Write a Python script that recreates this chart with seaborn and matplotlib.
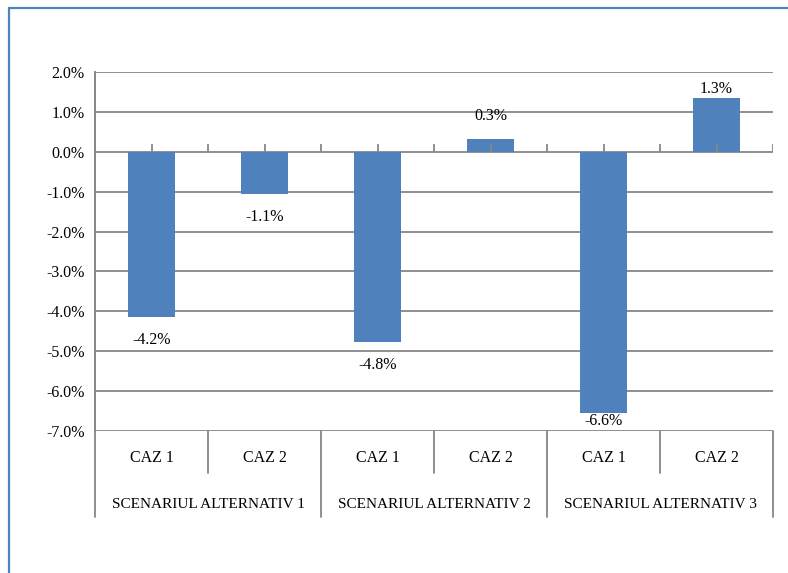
import matplotlib
matplotlib.use("Agg")
import matplotlib.pyplot as plt
import matplotlib.transforms as mtransforms
from matplotlib.lines import Line2D
import seaborn as sns
import pandas as pd
import numpy as np

# ---- data ----
scenarios = ["SCENARIUL ALTERNATIV 1", "SCENARIUL ALTERNATIV 2", "SCENARIUL ALTERNATIV 3"]
cases = ["CAZ 1", "CAZ 2"]
values = [-4.15, -1.07, -4.77, 0.32, -6.56, 1.34]          # percent
value_labels = ["-4.2%", "-1.1%", "-4.8%", "0.3%", "-6.6%", "1.3%"]
y_ticks = [2.0, 1.0, 0.0, -1.0, -2.0, -3.0, -4.0, -5.0, -6.0, -7.0]

BAR = "#4F81BD"
GRID = "#878787"
BORDER = "#4F81BD"

sns.set_theme(style="white")
plt.rcParams['font.family'] = ['Liberation Serif', 'DejaVu Serif']

rows = []
for si, s in enumerate(scenarios):
    for ci, c in enumerate(cases):
        rows.append({"key": f"{s}|{c}", "scenario": s, "case": c,
                     "value": values[si * len(cases) + ci]})
df = pd.DataFrame(rows)

W, H = 788, 573
fig = plt.figure(figsize=(W / 100, H / 100), dpi=100)
ax_left, ax_right, ax_top, ax_bot = 95, 773, 72, 431
ax = fig.add_axes([ax_left / W, 1 - ax_bot / H, (ax_right - ax_left) / W, (ax_bot - ax_top) / H])

sns.barplot(data=df, x="key", y="value", color=BAR, saturation=1, width=0.42,
            errorbar=None, ax=ax, zorder=3, linewidth=0, edgecolor="none")

ax.set_ylim(y_ticks[-1], y_ticks[0])
n = len(df)
ax.set_xlim(-0.5, n - 0.5)
ax.set_yticks(y_ticks)
ax.set_yticklabels([f"{t:.1f}%" for t in y_ticks])
ax.yaxis.grid(True, color=GRID, linewidth=1.3)
ax.set_axisbelow(True)
ax.set_xlabel("")
ax.set_ylabel("")

for sp in ["top", "right", "bottom"]:
    ax.spines[sp].set_visible(False)
ax.spines["left"].set_color(GRID)
ax.spines["left"].set_linewidth(1.3)

FS = 11.5
ax.tick_params(axis="y", direction="out", length=3.6, width=1.3, color=GRID,
               pad=4, labelsize=FS, labelcolor="black")
ax.set_xticks(range(n))
ax.set_xticklabels(df["case"].tolist())
ax.tick_params(axis="x", length=0, pad=13.5, labelsize=FS, labelcolor="black")

# small upward ticks on the zero line (category boundaries and centres)
px_per_unit = (ax_bot - ax_top) / (y_ticks[0] - y_ticks[-1])
ax.vlines(np.arange(-0.5, n, 0.5), 0, 8 / px_per_unit, colors=GRID, linewidth=1.3, zorder=4)

# bar value labels (kept inside the plot area)
off = 23 / px_per_unit
ymin_lab = y_ticks[-1] + 10 / px_per_unit
ymax_lab = y_ticks[0] - 17 / px_per_unit
for patch, v, lab in zip(ax.patches, df["value"], value_labels):
    xc = patch.get_x() + patch.get_width() / 2
    y = min(v + off, ymax_lab) if v >= 0 else max(v - off, ymin_lab)
    ax.text(xc, y, lab, ha="center", va="center", fontsize=FS, color="black", zorder=5)

# multi-level category axis separators
trans = mtransforms.blended_transform_factory(ax.transData, ax.transAxes)
short_y = -(473 - ax_bot) / (ax_bot - ax_top)
long_y = -(517 - ax_bot) / (ax_bot - ax_top)
for b in np.arange(-0.5, n, 1.0):
    k = int(round(b + 0.5))
    y0 = long_y if k % len(cases) == 0 else short_y
    y1 = 1.0 if k == 0 else 0.0
    fig.add_artist(Line2D([b, b], [y0, y1], transform=trans, color=GRID, linewidth=1.3))

scen_y = -(504.5 - ax_bot) / (ax_bot - ax_top)
for si, s in enumerate(scenarios):
    xc = si * len(cases) + (len(cases) - 1) / 2
    ax.text(xc, scen_y, s, transform=trans, ha="center", va="center",
            fontsize=11, color="black", clip_on=False)

# outer blue frame (left and top edges visible)
fx, fy = 8.5 / W, 1 - 7.5 / H
fig.add_artist(Line2D([fx, fx], [0, fy], transform=fig.transFigure, color=BORDER, linewidth=1.6))
fig.add_artist(Line2D([fx, 1], [fy, fy], transform=fig.transFigure, color=BORDER, linewidth=1.6))

fig.savefig("out.png", dpi=100)
